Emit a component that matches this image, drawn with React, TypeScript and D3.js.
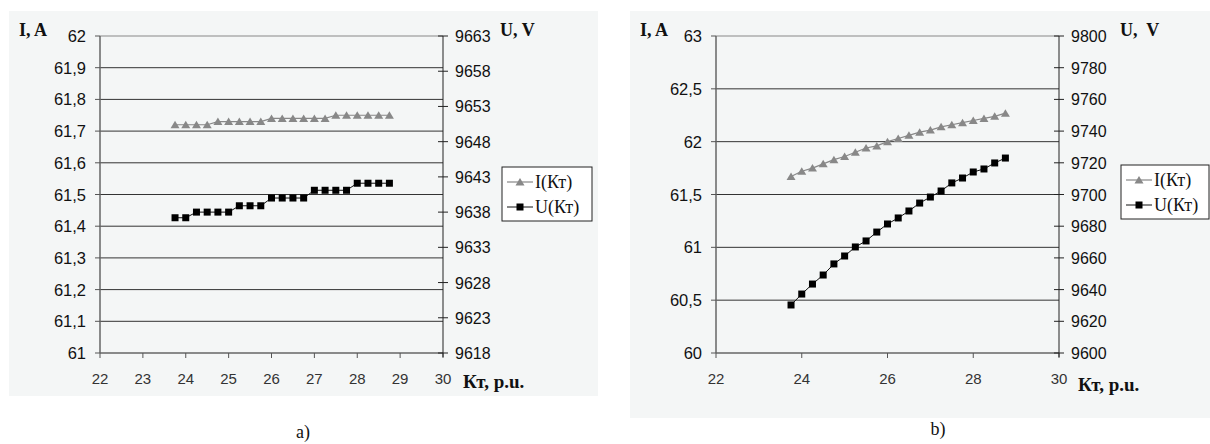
import React from "react";
import * as d3 from "d3";

const ktValues = [23.75, 24, 24.25, 24.5, 24.75, 25, 25.25, 25.5, 25.75, 26, 26.25, 26.5, 26.75, 27, 27.25, 27.5, 27.75, 28, 28.25, 28.5, 28.75];

const currentA = [61.72, 61.72, 61.72, 61.72, 61.73, 61.73, 61.73, 61.73, 61.73, 61.74, 61.74, 61.74, 61.74, 61.74, 61.74, 61.75, 61.75, 61.75, 61.75, 61.75, 61.75];
const voltageA = [9637.2, 9637.2, 9638.0, 9638.0, 9638.0, 9638.0, 9638.9, 9638.9, 9638.9, 9640.0, 9640.0, 9640.0, 9640.0, 9641.1, 9641.1, 9641.1, 9641.1, 9642.1, 9642.1, 9642.1, 9642.1];

const currentB = [61.67, 61.72, 61.75, 61.79, 61.83, 61.86, 61.9, 61.94, 61.96, 62.0, 62.03, 62.06, 62.09, 62.11, 62.14, 62.16, 62.18, 62.2, 62.22, 62.24, 62.27];
const voltageB = [9630.3, 9637.2, 9643.5, 9649.2, 9656.2, 9661.2, 9666.9, 9670.7, 9676.3, 9681.4, 9685.2, 9689.6, 9694.6, 9698.4, 9702.2, 9707.3, 9710.4, 9714.2, 9716.1, 9719.9, 9723.0];

const xTicksA = [22, 23, 24, 25, 26, 27, 28, 29, 30];
const leftTicksA = [61, 61.1, 61.2, 61.3, 61.4, 61.5, 61.6, 61.7, 61.8, 61.9, 62];
const rightTicksA = [9618, 9623, 9628, 9633, 9638, 9643, 9648, 9653, 9658, 9663];

const xTicksB = [22, 24, 26, 28, 30];
const leftTicksB = [60, 60.5, 61, 61.5, 62, 62.5, 63];
const rightTicksB = [9600, 9620, 9640, 9660, 9680, 9700, 9720, 9740, 9760, 9780, 9800];

const seriesNames = ["I(Кт)", "U(Кт)"];

const fmt = (v: number) => String(v).replace(".", ",");

const SANS = "'Liberation Sans', Arial, sans-serif";
const SERIF = "'Liberation Serif', 'Times New Roman', serif";

type ChartProps = {
  panel: { x: number; y: number; w: number; h: number };
  x0: number; x1: number; yTop: number; yBot: number;
  xDomain: [number, number];
  lDomain: [number, number];
  rDomain: [number, number];
  xTicks: number[]; lTicks: number[]; rTicks: number[];
  cur: number[]; volt: number[];
  legend: { x: number; y: number; w: number; h: number };
  iLabel: { x: number; y: number };
  uLabel: { x: number; y: number; text: string };
  ktLabel: { x: number; y: number };
  caption: { x: number; y: number; text: string };
};

function Triangle({ cx, cy }: { cx: number; cy: number }) {
  return <path d={`M${cx - 4.5},${cy + 3.5}L${cx},${cy - 4}L${cx + 4.5},${cy + 3.5}Z`} fill="#888" />;
}
function Square({ cx, cy }: { cx: number; cy: number }) {
  return <rect x={cx - 3.5} y={cy - 3.5} width={7} height={7} fill="#000" />;
}

function Chart(p: ChartProps) {
  const x = d3.scaleLinear().domain(p.xDomain).range([p.x0, p.x1]);
  const yl = d3.scaleLinear().domain(p.lDomain).range([p.yBot, p.yTop]);
  const yr = d3.scaleLinear().domain(p.rDomain).range([p.yBot, p.yTop]);
  const lineI = d3.line<number>().x((_, i) => x(ktValues[i])).y((d) => yl(d));
  const lineU = d3.line<number>().x((_, i) => x(ktValues[i])).y((d) => yr(d));
  const lg = p.legend;
  return (
    <g>
      <rect x={p.panel.x} y={p.panel.y} width={p.panel.w} height={p.panel.h} fill="#f4f6f6" />
      {p.lTicks.filter((t) => t !== p.lDomain[0]).map((t, i) => (
        <line key={"g" + i} x1={p.x0} x2={p.x1} y1={yl(t)} y2={yl(t)}
          stroke={t === p.lDomain[1] ? "#888" : "#333"} strokeWidth={1} />
      ))}
      <line x1={p.x0} x2={p.x0} y1={p.yTop} y2={p.yBot} stroke="#666" strokeWidth={1.5} />
      {p.lTicks.map((t, i) => (
        <g key={"lt" + i}>
          <line x1={p.x0 - 5} x2={p.x0} y1={yl(t)} y2={yl(t)} stroke="#555" />
          <text x={p.x0 - 14} y={yl(t) + 6} textAnchor="end" fontFamily={SANS} fontSize={16.5} fill="#111">{fmt(t)}</text>
        </g>
      ))}
      <line x1={p.x0} x2={p.x1} y1={p.yBot} y2={p.yBot} stroke="#666" strokeWidth={1.5} />
      {p.xTicks.map((t, i) => (
        <g key={"xt" + i}>
          <line x1={x(t)} x2={x(t)} y1={p.yBot} y2={p.yBot + 5} stroke="#555" />
          <text x={x(t)} y={p.yBot + 31} textAnchor="middle" fontFamily={SANS} fontSize={15} fill="#333">{fmt(t)}</text>
        </g>
      ))}
      <line x1={p.x1} x2={p.x1} y1={p.yTop} y2={p.yBot + 4} stroke="#222" strokeWidth={1} />
      {p.rTicks.map((t, i) => (
        <g key={"rt" + i}>
          <line x1={p.x1 - 5} x2={p.x1 + 5} y1={yr(t)} y2={yr(t)} stroke="#222" />
          <text x={p.x1 + 12} y={yr(t) + 6} textAnchor="start" fontFamily={SANS} fontSize={16} fill="#111">{t}</text>
        </g>
      ))}
      <path d={lineI(p.cur) || ""} fill="none" stroke="#888" strokeWidth={1.2} />
      {p.cur.map((v, i) => <Triangle key={"tr" + i} cx={x(ktValues[i])} cy={yl(v)} />)}
      <path d={lineU(p.volt) || ""} fill="none" stroke="#111" strokeWidth={1} />
      {p.volt.map((v, i) => <Square key={"sq" + i} cx={x(ktValues[i])} cy={yr(v)} />)}
      <text x={p.iLabel.x} y={p.iLabel.y} fontFamily={SERIF} fontWeight="bold" fontSize={18} fill="#111">I, A</text>
      <text x={p.uLabel.x} y={p.uLabel.y} fontFamily={SERIF} fontWeight="bold" fontSize={18} fill="#111" style={{ whiteSpace: "pre" }}>{p.uLabel.text}</text>
      <text x={p.ktLabel.x} y={p.ktLabel.y} fontFamily={SERIF} fontWeight="bold" fontSize={19} fill="#111">Кт, p.u.</text>
      <rect x={lg.x} y={lg.y} width={lg.w} height={lg.h} fill="#fff" stroke="#222" strokeWidth={1} />
      <line x1={lg.x + 5} x2={lg.x + 31} y1={lg.y + 15} y2={lg.y + 15} stroke="#888" strokeWidth={1.2} />
      <Triangle cx={lg.x + 18} cy={lg.y + 15} />
      <text x={lg.x + 33} y={lg.y + 21} fontFamily={SERIF} fontSize={18} fill="#111">{seriesNames[0]}</text>
      <line x1={lg.x + 5} x2={lg.x + 31} y1={lg.y + 40} y2={lg.y + 40} stroke="#111" strokeWidth={1} />
      <Square cx={lg.x + 18} cy={lg.y + 40} />
      <text x={lg.x + 33} y={lg.y + 46} fontFamily={SERIF} fontSize={18} fill="#111">{seriesNames[1]}</text>
      <text x={p.caption.x} y={p.caption.y} textAnchor="middle" fontFamily={SERIF} fontSize={18} fill="#111">{p.caption.text}</text>
    </g>
  );
}

export default function App() {
  return (
    <div style={{ position: "absolute", left: 0, top: 0 }}>
      <svg width={1210} height={444} style={{ display: "block", background: "#fff" }}>
        <Chart
          panel={{ x: 9, y: 11, w: 589, h: 385 }}
          x0={100} x1={443} yTop={36} yBot={353}
          xDomain={[22, 30]} lDomain={[61, 62]} rDomain={[9618, 9663]}
          xTicks={xTicksA} lTicks={leftTicksA} rTicks={rightTicksA}
          cur={currentA} volt={voltageA}
          legend={{ x: 502, y: 167, w: 90, h: 54 }}
          iLabel={{ x: 19, y: 36 }}
          uLabel={{ x: 500, y: 36, text: "U, V" }}
          ktLabel={{ x: 463, y: 388 }}
          caption={{ x: 303, y: 438, text: "a)" }}
        />
        <Chart
          panel={{ x: 630, y: 11, w: 580, h: 407 }}
          x0={716} x1={1059} yTop={36} yBot={353}
          xDomain={[22, 30]} lDomain={[60, 63]} rDomain={[9600, 9800]}
          xTicks={xTicksB} lTicks={leftTicksB} rTicks={rightTicksB}
          cur={currentB} volt={voltageB}
          legend={{ x: 1121, y: 165, w: 88, h: 54 }}
          iLabel={{ x: 640, y: 36 }}
          uLabel={{ x: 1120, y: 36, text: "U,  V" }}
          ktLabel={{ x: 1078, y: 391 }}
          caption={{ x: 938, y: 435, text: "b)" }}
        />
      </svg>
    </div>
  );
}
